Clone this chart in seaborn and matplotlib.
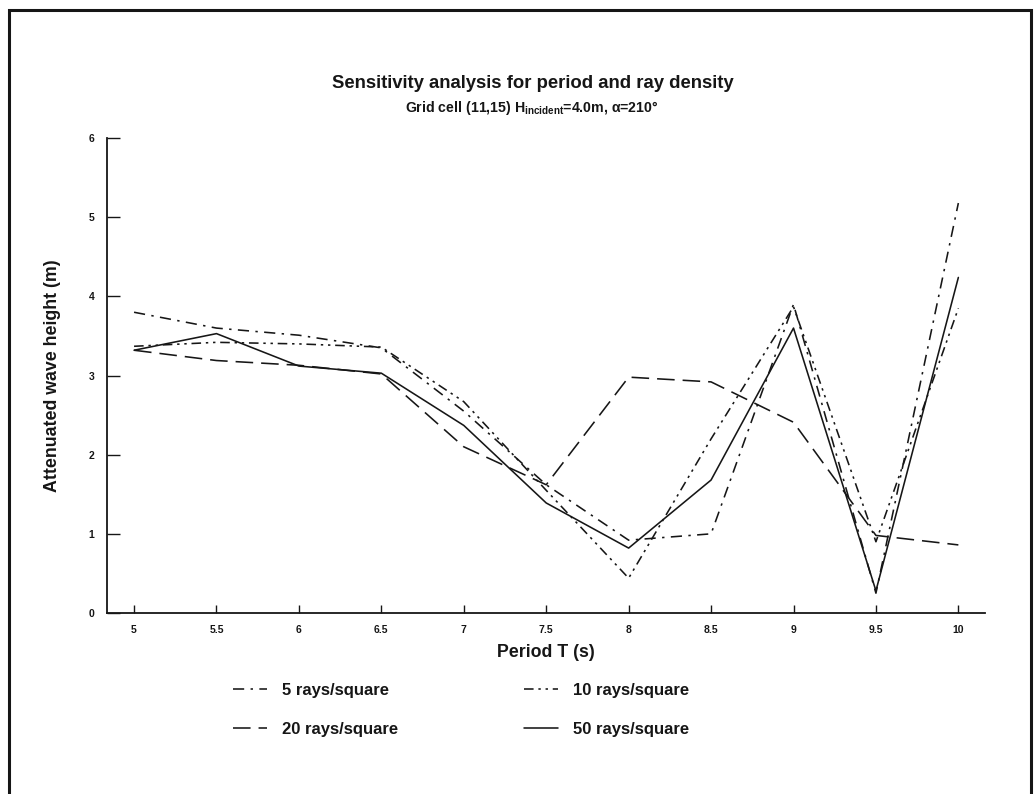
import matplotlib
matplotlib.use('Agg')
import matplotlib.pyplot as plt
import seaborn as sns

# ── Data ───────────────────────────────────────────────────────────────────
periods = [5, 5.5, 6, 6.5, 7, 7.5, 8, 8.5, 9, 9.5, 10]
rays_5  = [3.80, 3.60, 3.51, 3.35, 2.55, 1.62, 0.92, 1.00, 3.90, 0.25, 5.18]
rays_10 = [3.37, 3.42, 3.40, 3.36, 2.67, 1.55, 0.44, 2.20, 3.87, 0.90, 3.85]
rays_20 = [3.32, 3.19, 3.13, 3.02, 2.10, 1.62, 2.98, 2.92, 2.41, 0.98, 0.86]
rays_50 = [3.32, 3.53, 3.12, 3.03, 2.37, 1.39, 0.82, 1.68, 3.60, 0.28, 4.24]

x_ticks = [5, 5.5, 6, 6.5, 7, 7.5, 8, 8.5, 9, 9.5, 10]
x_tick_labels = ['5', '5.5', '6', '6.5', '7', '7.5', '8', '8.5', '9', '9.5', '10']
y_ticks = [0, 1, 2, 3, 4, 5, 6]

# ── Style ──────────────────────────────────────────────────────────────────
sns.set_theme(style='white')
plt.rcParams['font.family'] = ['Liberation Sans', 'DejaVu Sans']
plt.rcParams['mathtext.fontset'] = 'custom'
plt.rcParams['mathtext.rm'] = 'Liberation Sans:bold'
plt.rcParams['mathtext.it'] = 'Liberation Sans:bold'
plt.rcParams['mathtext.bf'] = 'Liberation Sans:bold'

INK = '#161616'

fig = plt.figure(figsize=(10.34, 7.94), dpi=100)
ax = fig.add_axes([0.1035, 0.228, 0.8495, 0.598])

series = [
    (rays_5,  '5 rays/square',  (0, (7, 4, 1.5, 4))),
    (rays_10, '10 rays/square', (0, (6, 3, 1.5, 3, 1.5, 3))),
    (rays_20, '20 rays/square', (0, (11, 5))),
    (rays_50, '50 rays/square', '-'),
]
for vals, name, ls in series:
    sns.lineplot(x=periods, y=vals, ax=ax, color=INK, linewidth=1.15,
                 linestyle=ls, label=name, legend=False)

ax.set_xlim(4.836, 10.164)
ax.set_ylim(0, 6)
ax.set_xticks(x_ticks)
ax.set_xticklabels(x_tick_labels)
ax.set_yticks(y_ticks)
ax.tick_params(axis='x', direction='in', length=6, width=1, pad=9,
               labelsize=7.5, colors=INK, bottom=True)
ax.tick_params(axis='y', direction='in', length=9, width=1, pad=9,
               labelsize=7.5, colors=INK, left=True)
for lab in ax.get_xticklabels() + ax.get_yticklabels():
    lab.set_fontweight('bold')

for side in ['top', 'right']:
    ax.spines[side].set_visible(False)
for side in ['left', 'bottom']:
    ax.spines[side].set_color(INK)
    ax.spines[side].set_linewidth(1.3)

ax.set_xlabel('Period T (s)', fontsize=12.8, fontweight='bold', color=INK, labelpad=6)
ax.set_ylabel('Attenuated wave height (m)', fontsize=12.8, fontweight='bold',
              color=INK, labelpad=20)

fig.text(0.515, 0.895, 'Sensitivity analysis for period and ray density',
         ha='center', va='center', fontsize=13.3, fontweight='bold', color=INK)
fig.text(0.514, 0.864, r'Grid cell (11,15) H$_{\rm incident}$=4.0m, $\alpha$=210°',
         ha='center', va='center', fontsize=10.2, fontweight='bold', color=INK)

# legend: two columns (5/20 on the left, 10/50 on the right)
lines = ax.get_lines()
order = [0, 2, 1, 3]
leg = fig.legend([lines[i] for i in order], [series[i][1] for i in order],
                 ncol=2, frameon=False, loc='center',
                 bbox_to_anchor=(0.446, 0.106),
                 prop={'size': 12, 'weight': 'bold'},
                 handlelength=2.0, columnspacing=7.6, labelspacing=1.4,
                 handletextpad=0.9)
for t in leg.get_texts():
    t.set_color(INK)

# outer frame
frame = plt.Rectangle((9 / 1034, -0.05), 1022 / 1034, 1.05 - 10 / 794,
                      transform=fig.transFigure, fill=False,
                      edgecolor=INK, linewidth=2.2)
fig.add_artist(frame)

fig.savefig('out.png', dpi=100, facecolor='white')
